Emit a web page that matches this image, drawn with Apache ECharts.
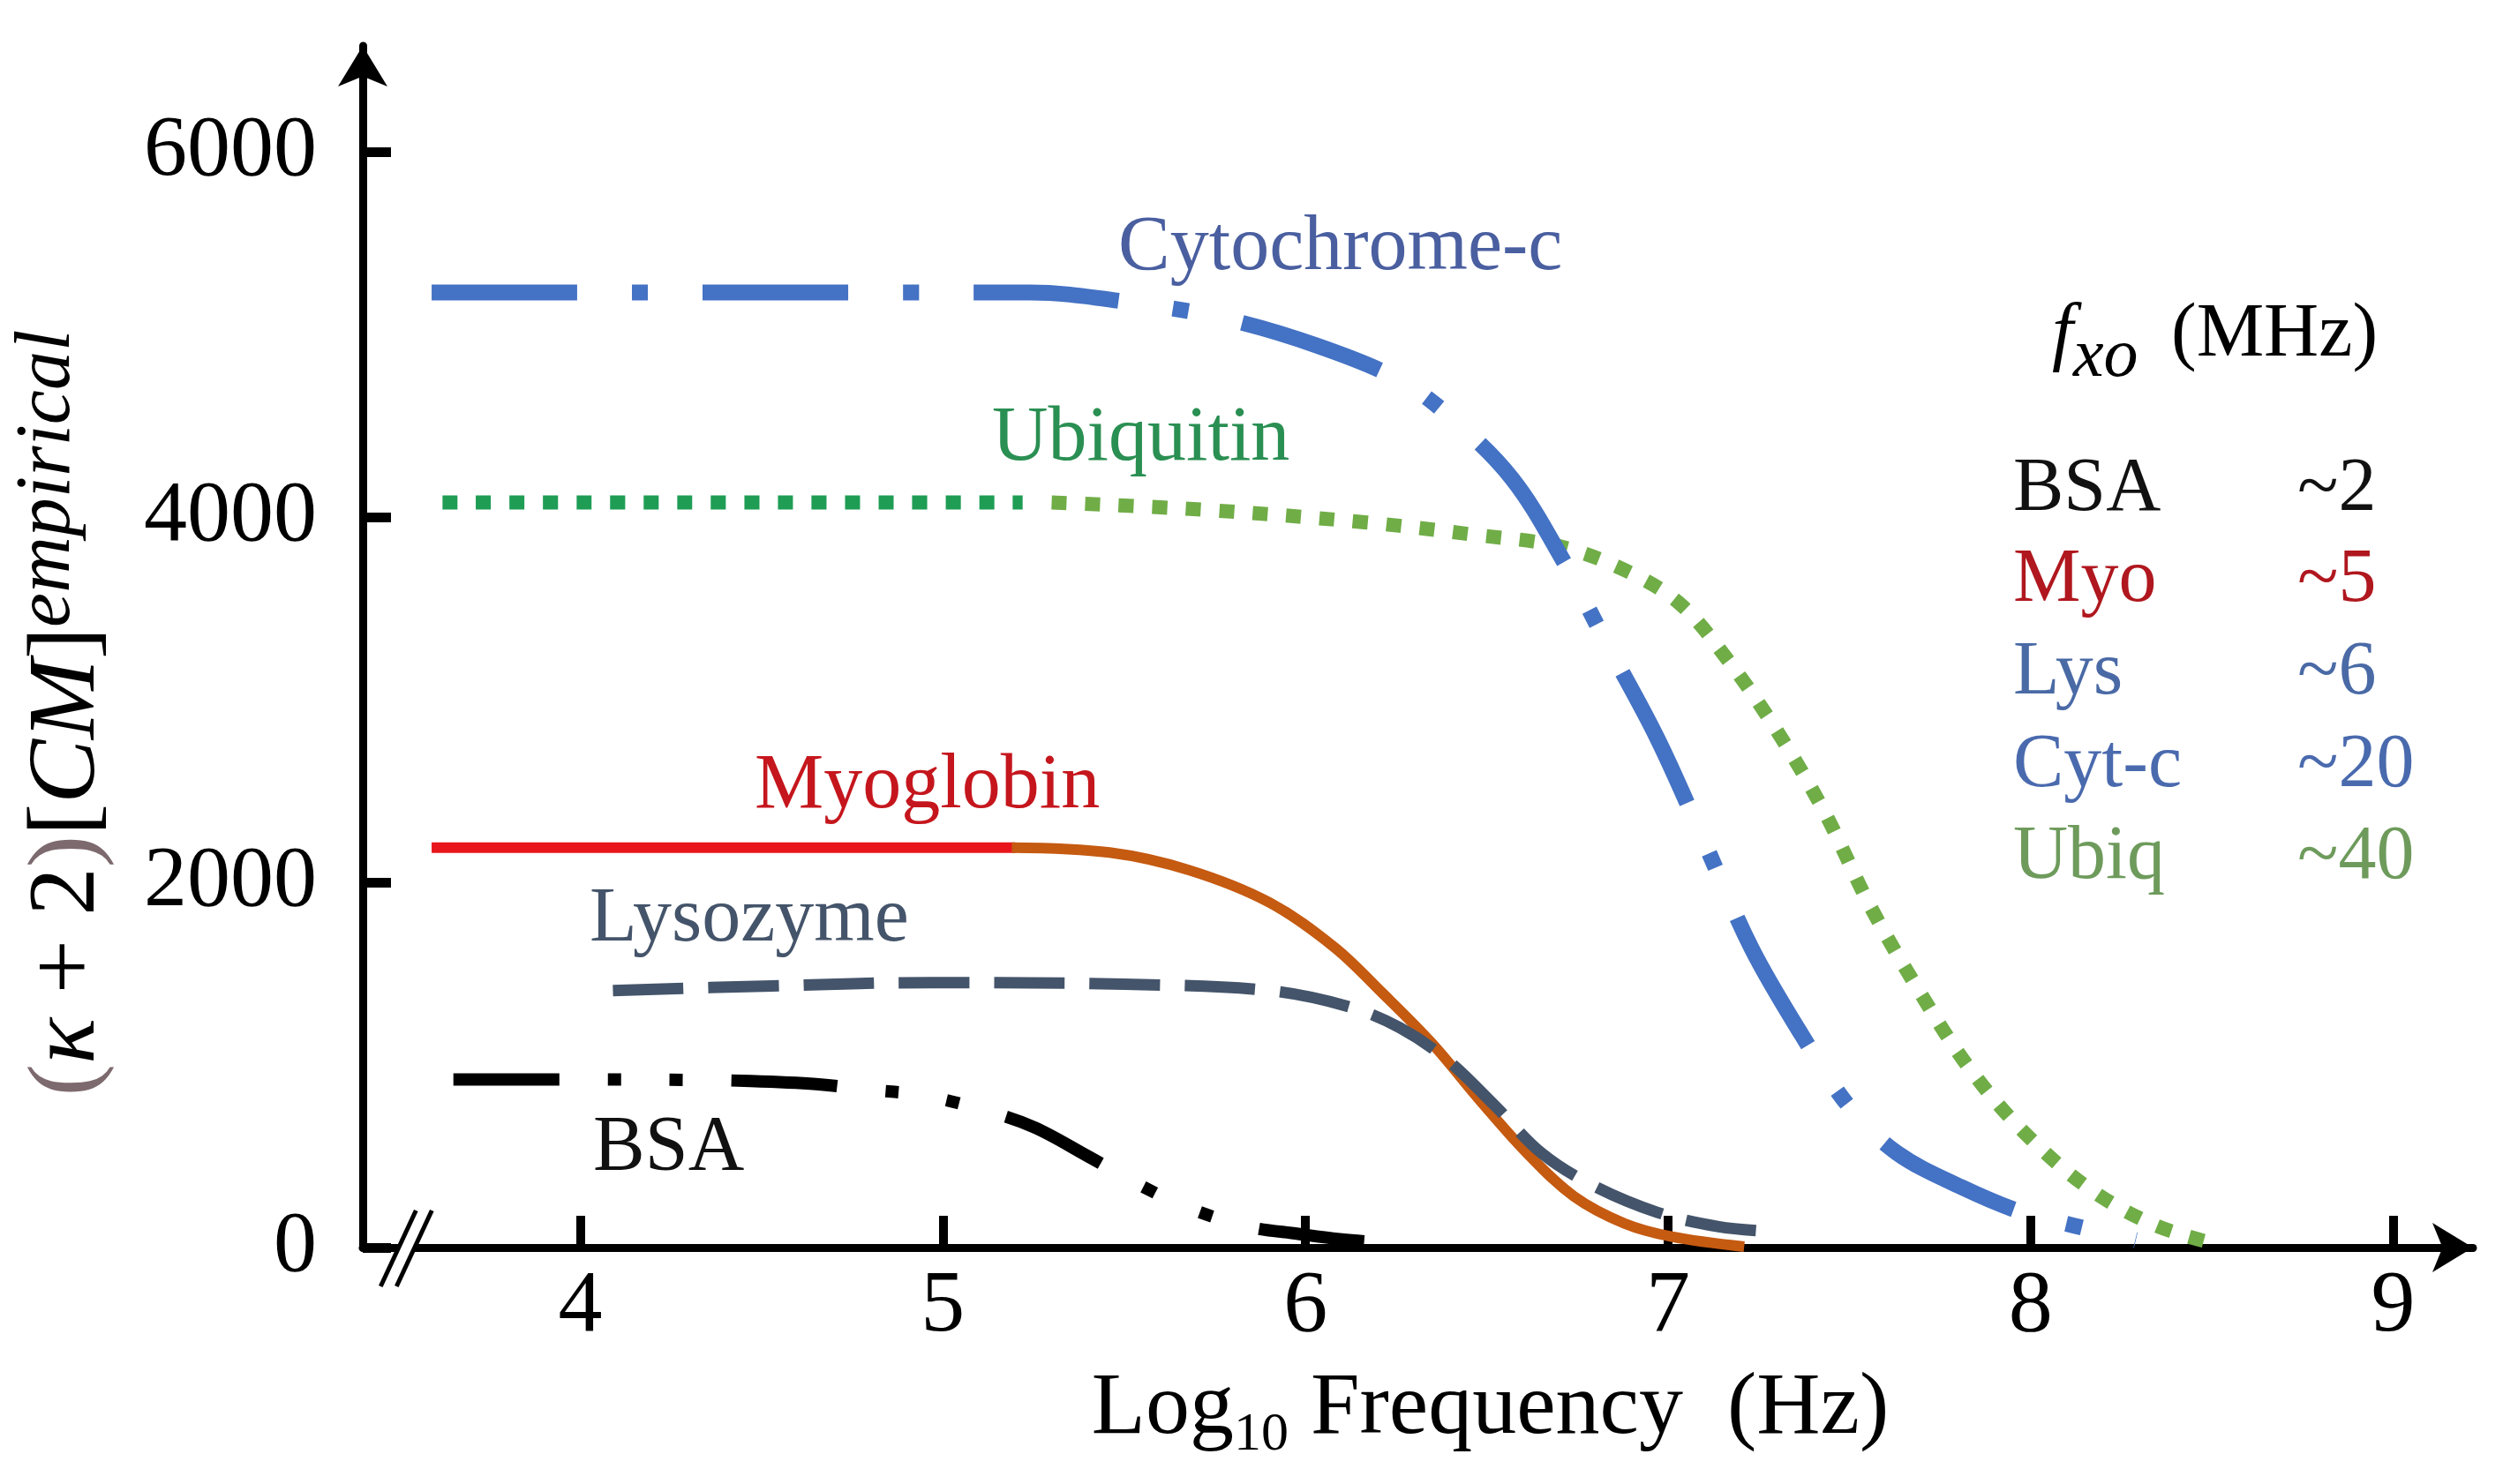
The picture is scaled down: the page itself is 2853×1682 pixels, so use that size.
<!DOCTYPE html>
<html><head><meta charset="utf-8">
<script src="https://cdn.jsdelivr.net/npm/echarts@6/dist/echarts.min.js"></script>
<style>html,body{margin:0;padding:0;background:#fff}#c{width:2853px;height:1682px}</style>
</head><body><div id="c"></div>
<script>
// ---------- data ----------
const xTickValues = [4, 5, 6, 7, 8, 9];
const yTickValues = [0, 2000, 4000, 6000];

const bsaX = [3.65, 3.98, 4.30, 4.47, 4.65, 4.79, 4.94, 5.10, 5.25, 5.40, 5.55, 5.68, 5.84, 5.98, 6.10, 6.26];
const bsaY = [920, 920, 918, 912, 895, 865, 835, 760, 660, 500, 335, 215, 115, 75, 45, 20];

const myoRedX = [3.59, 5.20];
const myoRedY = [2190, 2190];
const myoOrangeX = [5.19, 5.46, 5.68, 5.90, 6.08, 6.21, 6.35, 6.48, 6.61, 6.74, 6.88, 7.01, 7.21];
const myoOrangeY = [2190, 2163, 2066, 1890, 1644, 1398, 1116, 809, 519, 281, 132, 60, 5];

const lysX = [4.09, 4.53, 4.97, 5.50, 5.90, 6.12, 6.26, 6.39, 6.52, 6.65, 6.79, 6.97, 7.14, 7.28];
const lysY = [1407, 1433, 1451, 1442, 1407, 1319, 1204, 1029, 782, 519, 343, 193, 114, 88];

const cytX = [3.59, 5.24, 5.50, 5.77, 6.03, 6.26, 6.41, 6.57, 6.70, 6.83, 6.97, 7.10, 7.23, 7.37, 7.50, 7.63, 7.81, 7.98, 8.12, 8.29];
const cytY = [5230, 5230, 5180, 5090, 4940, 4750, 4530, 4210, 3800, 3310, 2790, 2220, 1640, 1160, 770, 520, 330, 190, 120, 40];

const ubiqDarkX = [3.62, 5.22];
const ubiqDarkY = [4080, 4080];
const ubiqLightX = [5.30, 5.72, 6.17, 6.48, 6.70, 6.88, 7.03, 7.16, 7.30, 7.43, 7.56, 7.70, 7.83, 7.98, 8.16, 8.34, 8.51];
const ubiqLightY = [4080, 4040, 3970, 3900, 3840, 3710, 3530, 3230, 2830, 2390, 1860, 1380, 985, 635, 325, 125, 20];

const curveLabels = ['Cytochrome-c', 'Ubiquitin', 'Myoglobin', 'Lysozyme', 'BSA'];
const fxoNames = ['BSA', 'Myo', 'Lys', 'Cyt-c', 'Ubiq'];
const fxoValues = ['~2', '~5', '~6', '~20', '~40'];

// ---------- chart ----------
const serif = "'Liberation Serif','Times New Roman',serif";
const pairs = (xs, ys) => xs.map((x, i) => [x, ys[i]]);

function lineSeries(name, xs, ys, color, width, dash, z) {
  return {
    type: 'line', name, data: pairs(xs, ys), showSymbol: false, symbol: 'none',
    smooth: 0.35, clip: false, silent: true, z: z,
    lineStyle: { color, width, type: dash || 'solid', cap: 'butt', join: 'round' }
  };
}

const chart = echarts.init(document.getElementById('c'), null, { renderer: 'canvas' });

const option = {
  animation: false,
  backgroundColor: '#fff',
  grid: { left: 411, right: 51, top: 52, bottom: 268, containLabel: false },
  xAxis: {
    type: 'value', min: 3.4, max: 9.22,
    axisLine: { onZero: true, lineStyle: { color: '#000', width: 9 }, symbol: ['none', 'arrow'], symbolSize: [42, 46] },
    axisTick: { show: true, inside: true, length: 36, lineStyle: { color: '#000', width: 10 }, customValues: xTickValues },
    axisLabel: { customValues: xTickValues, margin: 18, fontSize: 100, fontFamily: serif, color: '#000', formatter: v => String(v) },
    splitLine: { show: false },
    name: '{n|Log}{sub|10}{n| Frequency  (Hz)}',
    nameLocation: 'middle', nameGap: 124,
    nameTextStyle: {
      padding: [0, 0, 0, 164],
      rich: {
        n: { fontSize: 100, fontFamily: serif, color: '#000', lineHeight: 120, verticalAlign: 'middle' },
        sub: { fontSize: 62, fontFamily: serif, color: '#000', lineHeight: 62, verticalAlign: 'bottom' }
      }
    }
  },
  yAxis: {
    type: 'value', min: 0, max: 6580,
    axisLine: { show: true, onZero: false, lineStyle: { color: '#000', width: 9 }, symbol: ['none', 'arrow'], symbolSize: [42, 46] },
    axisTick: { show: true, inside: true, length: 32, lineStyle: { color: '#000', width: 11 }, customValues: yTickValues },
    axisLabel: { customValues: yTickValues, margin: 52, fontSize: 98, fontFamily: serif, color: '#000', formatter: v => String(v) },
    splitLine: { show: false },
    name: '{p|(}{i|κ}{n| + 2}{p|)}{n|[}{i|CM}{n|]}{s|empirical}',
    nameLocation: 'middle', nameRotate: 90, nameGap: 268,
    nameTextStyle: {
      padding: [0, 150, 0, 0],
      rich: {
        p: { fontSize: 109, fontFamily: serif, color: '#7D6A6E', lineHeight: 132, verticalAlign: 'middle' },
        i: { fontSize: 109, fontFamily: serif, fontStyle: 'italic', color: '#000', lineHeight: 132, verticalAlign: 'middle' },
        n: { fontSize: 109, fontFamily: serif, color: '#000', lineHeight: 132, verticalAlign: 'middle' },
        s: { fontSize: 88, fontFamily: serif, fontStyle: 'italic', color: '#000', lineHeight: 84, verticalAlign: 'top' }
      }
    }
  },
  series: [
    lineSeries('BSA', bsaX, bsaY, '#000000', 14, [120, 55, 15, 55, 15, 55], 2),
    lineSeries('Myoglobin', myoRedX, myoRedY, '#E8161C', 12, 'solid', 3),
    lineSeries('Myoglobin (fit)', myoOrangeX, myoOrangeY, '#C55A11', 12, 'solid', 3),
    lineSeries('Lysozyme', lysX, lysY, '#44546A', 13, [80, 28], 4),
    lineSeries('Ubiquitin', ubiqDarkX, ubiqDarkY, '#1F9D55', 16, [17, 21], 5),
    lineSeries('Ubiquitin (fit)', ubiqLightX, ubiqLightY, '#70AD47', 16, [17, 21], 5),
    lineSeries('Cytochrome-c', cytX, cytY, '#4472C4', 18, [165, 62, 18, 62], 6)
  ]
};
chart.setOption(option);

// ---------- annotations ----------
function txt(text, x, baseline, size, color, italic) {
  return {
    type: 'text', x: x, y: baseline - 0.34 * size, z: 50, silent: true,
    style: { text: text, font: (italic ? 'italic ' : '') + size + 'px ' + serif, fill: color, align: 'left', verticalAlign: 'middle' }
  };
}

const graphics = [];
// curve labels
const labelColors = ['#4A5FA0', '#2A8F52', '#C5161D', '#44546A', '#111111'];
const labelPos = [[1267, 312], [1124, 528], [855, 922], [668, 1073], [672, 1332]];
curveLabels.forEach((t, i) => graphics.push(txt(t, labelPos[i][0], labelPos[i][1], 88, labelColors[i], false)));

// f_xo table
graphics.push(txt('f', 2325, 410, 86, '#000', true));
graphics.push(txt('xo', 2349, 432, 78, '#000', true));
graphics.push(txt('(MHz)', 2460, 410, 86, '#000', false));
const rowColors = ['#111111', '#B0171E', '#4A6AA6', '#4A6AAE', '#6E9B5C'];
const rowBase = [585, 688, 793, 898, 1002];
fxoNames.forEach((t, i) => {
  graphics.push(txt(t, 2281, rowBase[i], 86, rowColors[i], false));
  graphics.push(txt(fxoValues[i], 2603, rowBase[i], 86, rowColors[i], false));
});

// axis break mark "//"
const bp = chart.convertToPixel({ gridIndex: 0 }, [3.52, 0]);
const bx = bp[0], by = bp[1];
graphics.push({
  type: 'polygon', z: 60, silent: true,
  shape: { points: [[bx - 29, by + 42], [bx + 11, by - 42], [bx + 29, by - 42], [bx - 11, by + 42]] },
  style: { fill: '#fff' }
});
graphics.push({ type: 'line', z: 61, silent: true, shape: { x1: bx - 29, y1: by + 44, x2: bx + 11, y2: by - 42 }, style: { stroke: '#000', lineWidth: 5 } });
graphics.push({ type: 'line', z: 61, silent: true, shape: { x1: bx - 11, y1: by + 44, x2: bx + 29, y2: by - 42 }, style: { stroke: '#000', lineWidth: 5 } });

chart.setOption({ graphic: graphics });
</script>
</body></html>
